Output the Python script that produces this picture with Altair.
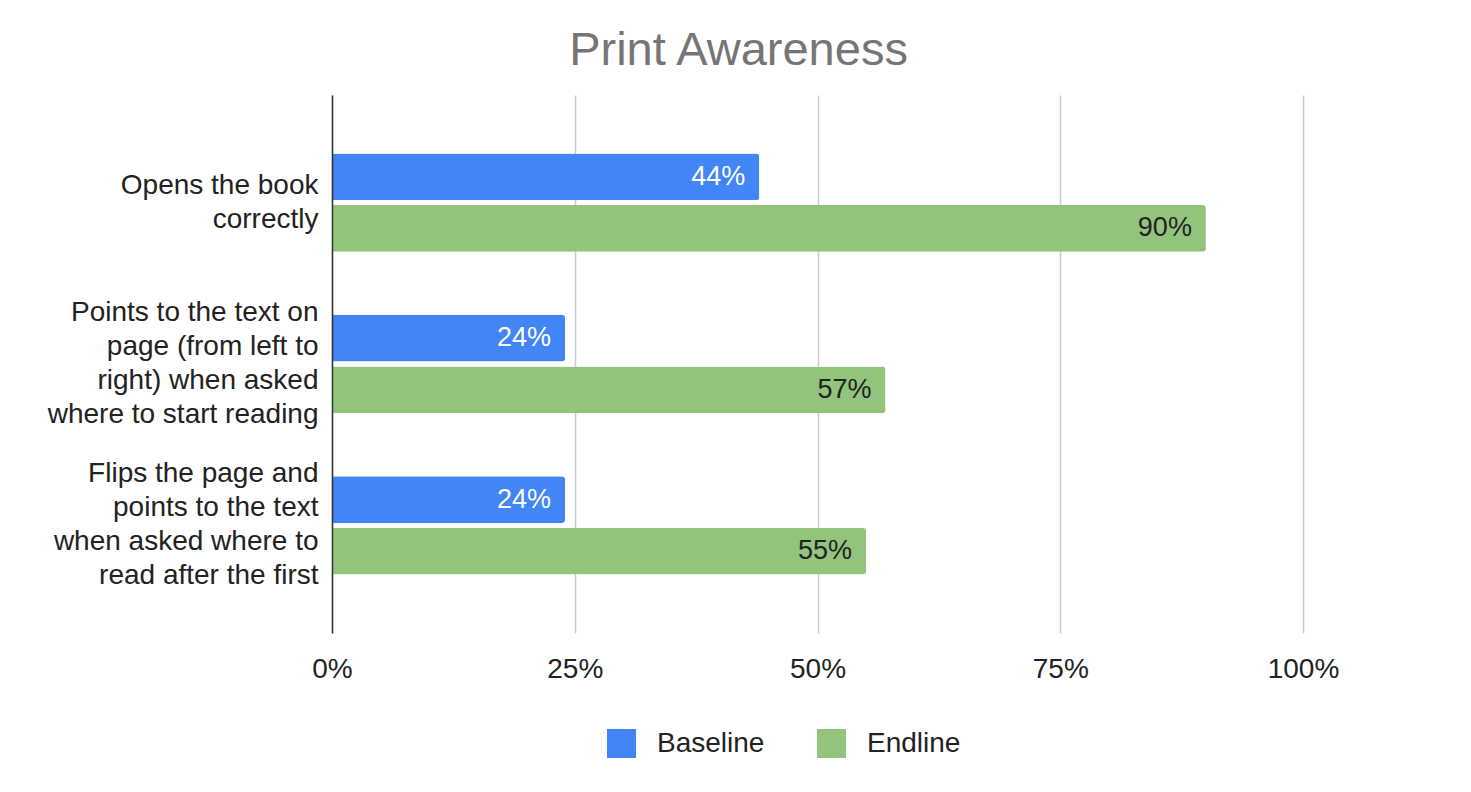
import altair as alt
import pandas as pd

# Survey items (line breaks mark how each axis label wraps)
categories = [
    "Opens the book\ncorrectly",
    "Points to the text on\npage (from left to\nright) when asked\nwhere to start reading",
    "Flips the page and\npoints to the text\nwhen asked where to\nread after the first",
]
series = ["Baseline", "Endline"]
baseline = [44, 24, 24]
endline = [90, 57, 55]
colors = ["#4285f4", "#93c47d"]
x_ticks = [0, 25, 50, 75, 100]

rows = []
for cat, b, e in zip(categories, baseline, endline):
    rows.append({"category": cat, "series": "Baseline", "value": b})
    rows.append({"category": cat, "series": "Endline", "value": e})
df = pd.DataFrame(rows)
df["label"] = df["value"].astype(str) + "%"

FONT = "Liberation Sans"
INK = "#222222"
LINE_H = 34

y_enc = alt.Y(
    "category:N",
    sort=categories,
    title=None,
    scale=alt.Scale(paddingInner=0.391, paddingOuter=0.362),
    axis=alt.Axis(
        labelExpr="split(datum.label, '\\n')",
        labelFont=FONT,
        labelFontSize=28,
        labelColor=INK,
        labelLineHeight=LINE_H,
        labelPadding=14,
        labelLimit=500,
        labelBaseline="middle",
        # lift wrapped labels by half their extra lines so each block sits centred on its band
        labelOffset={
            "condition": {
                "test": "length(split(datum.label, '\\n')) > 2",
                "value": -1.5 * LINE_H,
            },
            "value": -0.5 * LINE_H,
        },
        ticks=False,
        grid=False,
        domain=True,
        domainColor="#333333",
        domainWidth=1.5,
        zindex=1,
    ),
)
yoff_enc = alt.YOffset(
    "series:N", sort=series, scale=alt.Scale(paddingInner=0.095, paddingOuter=0)
)
x_enc = alt.X(
    "value:Q",
    title=None,
    scale=alt.Scale(domain=[0, 100], nice=False),
    axis=alt.Axis(
        values=x_ticks,
        labelExpr="datum.value + '%'",
        labelFont=FONT,
        labelFontSize=28,
        labelColor=INK,
        labelPadding=22,
        labelFlush=False,
        grid=True,
        gridColor="#cccccc",
        gridWidth=1.5,
        domain=False,
        ticks=False,
    ),
)

base = alt.Chart(df)

bars = base.mark_bar(cornerRadiusEnd=3).encode(
    y=y_enc,
    yOffset=yoff_enc,
    x=x_enc,
    color=alt.Color(
        "series:N",
        sort=series,
        scale=alt.Scale(domain=series, range=colors),
        legend=alt.Legend(
            orient="none",
            legendX=275,
            legendY=634,
            direction="horizontal",
            title=None,
            symbolType="square",
            symbolSize=841,
            symbolStrokeWidth=0,
            symbolOpacity=1,
            labelFont=FONT,
            labelFontSize=28,
            labelColor=INK,
            labelOffset=21,
            columnPadding=52,
            padding=0,
        ),
    ),
)

values = base.mark_text(
    align="right", baseline="middle", dx=-14, font=FONT, fontSize=27
).encode(
    y=alt.Y("category:N", sort=categories),
    yOffset=alt.YOffset("series:N", sort=series),
    x=alt.X("value:Q"),
    text="label:N",
    color=alt.condition(
        alt.datum.series == "Baseline", alt.value("#ffffff"), alt.value(INK)
    ),
)

chart = (
    alt.layer(bars, values)
    .properties(
        width=971,
        height=538,
        autosize=alt.AutoSizeParams(type="none"),
        padding={"left": 332, "top": 95, "right": 168, "bottom": 159},
        title=alt.TitleParams(
            "Print Awareness",
            font=FONT,
            fontSize=47,
            fontWeight="normal",
            color="#757575",
            anchor="middle",
            dx=-79,
            dy=45,
            offset=28,
            baseline="alphabetic",
        ),
        background="#ffffff",
    )
    .configure_view(stroke=None)
)

chart.save("out.html", embed_options={"renderer": "svg", "actions": False})
